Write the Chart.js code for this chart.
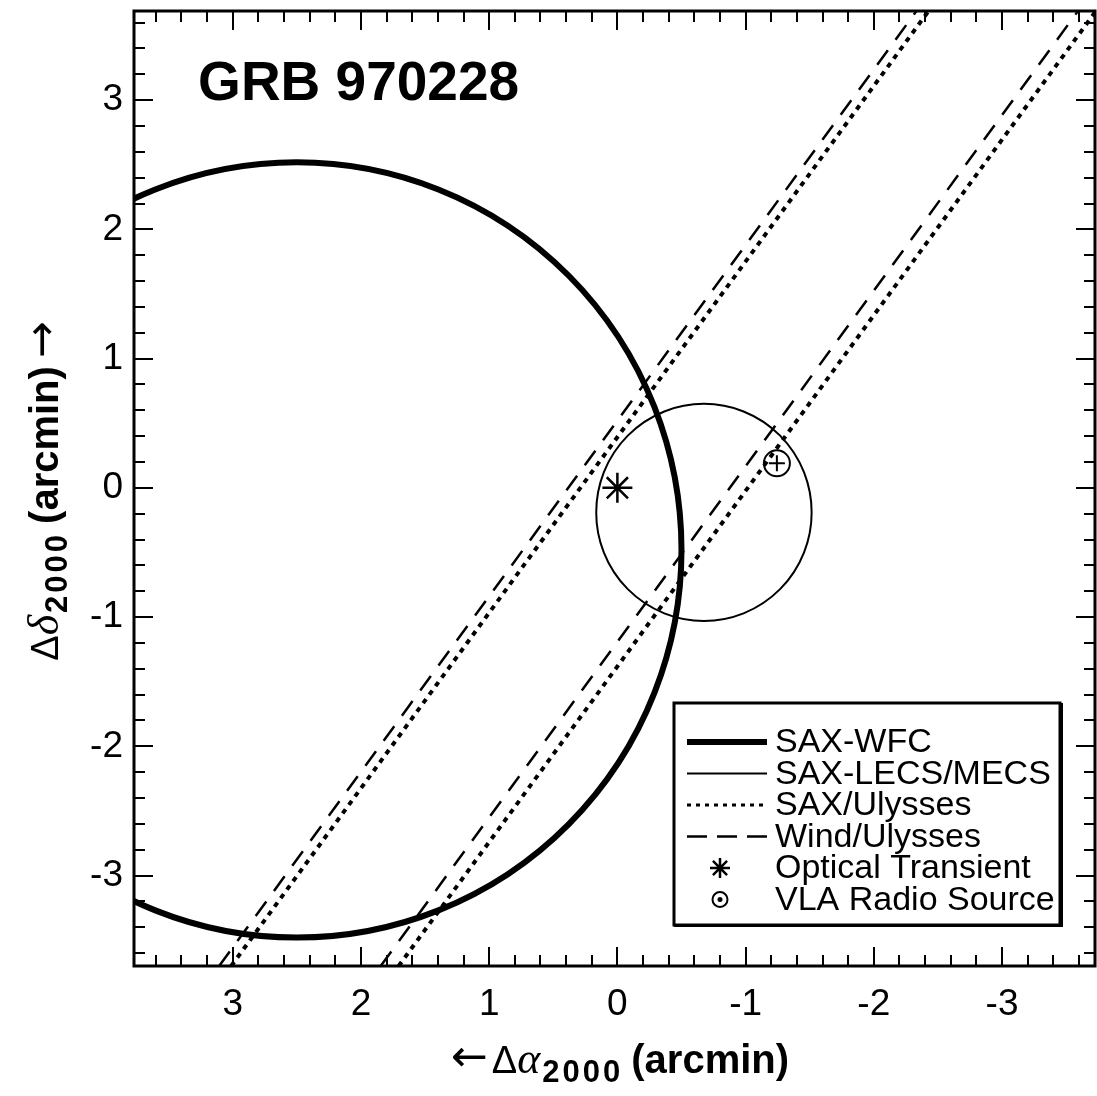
<!DOCTYPE html>
<html>
<head>
<meta charset="utf-8">
<script src="https://cdn.jsdelivr.net/npm/chart.js@4.4.0/dist/chart.umd.min.js"></script>
<style>
  html, body { margin: 0; padding: 0; background: #fff; }
  #wrap { width: 1097px; height: 1096px; }
</style>
</head>
<body>
<div id="wrap"><canvas id="graph" width="1097" height="1096"></canvas></div>
<script>
// axis ranges in arcmin (RA axis runs right to left)
const xRange = [-3.725, 3.77];
const yRange = [-3.70, 3.69];
const tickValues = [-3, -2, -1, 0, 1, 2, 3];
const tickLabels = ['-3', '-2', '-1', '0', '1', '2', '3'];

// error circles: centre x, centre y, radius
const wfcCircle = [2.5, -0.48, 3.0];
const mecsCircle = [-0.675, -0.19, 0.84];

// IPN annulus edges, given where they meet the bottom and top of the frame
const saxUlyssesLeft = [{x: 3.012, y: -3.70}, {x: -2.434, y: 3.70}];
const saxUlyssesRight = [{x: 1.706, y: -3.70}, {x: -3.74, y: 3.70}];
const windUlyssesLeft = [{x: 3.106, y: -3.70}, {x: -2.34, y: 3.70}];
const windUlyssesRight = [{x: 1.846, y: -3.70}, {x: -3.60, y: 3.70}];

// point sources
const opticalTransient = [{x: 0.0, y: 0.0}];
const vlaSource = [{x: -1.244, y: 0.19}];

const titleText = 'GRB 970228';
const titleAnchor = [3.27, 3.0];

const legendLabels = ['SAX-WFC', 'SAX-LECS/MECS', 'SAX/Ulysses', 'Wind/Ulysses', 'Optical Transient', 'VLA Radio Source'];

const sans = '"Liberation Sans", Arial, Helvetica, sans-serif';
const serif = '"Liberation Serif", "Times New Roman", serif';
const arrowFont = '"DejaVu Sans", sans-serif';

function drawParts(ctx, parts, cx, baseline) {
    let total = 0;
    parts.forEach(function(p) {
        ctx.font = p.font;
        ctx.letterSpacing = p.spacing || '0px';
        p.w = ctx.measureText(p.text).width + (p.gap || 0);
        total += p.w;
    });
    let px = cx - total / 2;
    parts.forEach(function(p) {
        ctx.font = p.font;
        ctx.letterSpacing = p.spacing || '0px';
        ctx.fillText(p.text, px, baseline + (p.dy || 0));
        px += p.w;
    });
    ctx.letterSpacing = '0px';
}

const circlePlugin = {
    id: 'errorCircles',
    beforeDatasetsDraw(chart) {
        const {ctx, chartArea: a, scales: {x, y}} = chart;
        ctx.save();
        ctx.beginPath();
        ctx.rect(a.left, a.top, a.right - a.left, a.bottom - a.top);
        ctx.clip();
        ctx.strokeStyle = '#000';
        [[wfcCircle, 6], [mecsCircle, 2]].forEach(function(item) {
            const c = item[0];
            const cx = x.getPixelForValue(c[0]), cy = y.getPixelForValue(c[1]);
            const rx = Math.abs(x.getPixelForValue(c[0] + c[2]) - cx);
            const ry = Math.abs(y.getPixelForValue(c[1] + c[2]) - cy);
            ctx.lineWidth = item[1];
            ctx.beginPath();
            ctx.ellipse(cx, cy, rx, ry, 0, 0, Math.PI * 2);
            ctx.stroke();
        });
        ctx.restore();
    }
};

const framePlugin = {
    id: 'frame',
    afterDraw(chart) {
        const {ctx, chartArea: a, scales: {x, y}} = chart;
        ctx.save();
        ctx.strokeStyle = '#000';
        ctx.fillStyle = '#000';

        // inward ticks on all four sides, minor every 0.2
        ctx.lineWidth = 2;
        ctx.beginPath();
        for (let i = Math.ceil(x.min * 5); i <= Math.floor(x.max * 5); i++) {
            const px = Math.round(x.getPixelForValue(i / 5));
            const len = i % 5 === 0 ? 19 : 11;
            ctx.moveTo(px, a.bottom); ctx.lineTo(px, a.bottom - len);
            ctx.moveTo(px, a.top); ctx.lineTo(px, a.top + len);
        }
        for (let i = Math.ceil(y.min * 5); i <= Math.floor(y.max * 5); i++) {
            const py = Math.round(y.getPixelForValue(i / 5));
            const len = i % 5 === 0 ? 19 : 11;
            ctx.moveTo(a.left, py); ctx.lineTo(a.left + len, py);
            ctx.moveTo(a.right, py); ctx.lineTo(a.right - len, py);
        }
        ctx.stroke();
        ctx.lineWidth = 3;
        ctx.strokeRect(a.left, a.top, a.right - a.left, a.bottom - a.top);

        // plot title
        ctx.font = 'bold 55px ' + sans;
        ctx.textAlign = 'left';
        ctx.textBaseline = 'alphabetic';
        ctx.fillText(titleText, x.getPixelForValue(titleAnchor[0]), y.getPixelForValue(titleAnchor[1]));

        // axis titles
        drawParts(ctx, [
            {text: '\u2190', font: '44px ' + arrowFont, dy: -2, gap: 4},
            {text: '\u0394', font: '38px ' + sans},
            {text: '\u03b1', font: 'italic 44px ' + serif, gap: 2},
            {text: '2000', font: 'bold 31px ' + sans, dy: 9, spacing: '3px', gap: 8},
            {text: '(arcmin)', font: 'bold 40px ' + sans}
        ], 620, 1073);

        ctx.save();
        ctx.translate(58, 491);
        ctx.rotate(-Math.PI / 2);
        drawParts(ctx, [
            {text: '\u0394', font: '38px ' + sans},
            {text: '\u03b4', font: 'italic 44px ' + serif, gap: 2},
            {text: '2000', font: 'bold 31px ' + sans, dy: 9, spacing: '3px', gap: 8},
            {text: '(arcmin)', font: 'bold 40px ' + sans, gap: 8},
            {text: '\u2192', font: '44px ' + arrowFont, dy: -2}
        ], 0, 0);
        ctx.restore();

        // legend box
        const bx = 674, by = 703, bw = 386, bh = 222;
        ctx.fillStyle = '#fff';
        ctx.fillRect(bx, by, bw, bh);
        ctx.lineWidth = 3;
        ctx.strokeRect(bx, by, bw, bh);
        ctx.fillStyle = '#000';
        ctx.fillRect(bx + bw, by, 3, bh + 2);
        ctx.fillRect(bx, by + bh, bw + 2, 2);

        const rowY = function(i) { return by + 39 + i * 31.5; };
        const sx0 = 687, sx1 = 767, tx = 775;
        const samples = [
            {w: 6, dash: []},
            {w: 2, dash: []},
            {w: 3, dash: [4, 5]},
            {w: 2.5, dash: [20, 10]}
        ];
        samples.forEach(function(s, i) {
            ctx.lineWidth = s.w;
            ctx.setLineDash(s.dash);
            ctx.beginPath();
            ctx.moveTo(sx0, rowY(i));
            ctx.lineTo(sx1, rowY(i));
            ctx.stroke();
        });
        ctx.setLineDash([]);

        // star marker
        const sc = [720, rowY(4)];
        ctx.lineWidth = 2.5;
        ctx.beginPath();
        for (let k = 0; k < 4; k++) {
            const ang = k * Math.PI / 4;
            ctx.moveTo(sc[0] - 10 * Math.cos(ang), sc[1] - 10 * Math.sin(ang));
            ctx.lineTo(sc[0] + 10 * Math.cos(ang), sc[1] + 10 * Math.sin(ang));
        }
        ctx.stroke();
        // circled dot
        const cc = [720, rowY(5)];
        ctx.lineWidth = 2;
        ctx.beginPath();
        ctx.arc(cc[0], cc[1], 7.5, 0, Math.PI * 2);
        ctx.stroke();
        ctx.beginPath();
        ctx.arc(cc[0], cc[1], 2.5, 0, Math.PI * 2);
        ctx.fill();

        ctx.font = '34px ' + sans;
        ctx.textBaseline = 'middle';
        legendLabels.forEach(function(lbl, i) {
            ctx.fillText(lbl, tx, rowY(i) + 1);
        });
        ctx.restore();
    }
};

function edgeLine(data, dash, width) {
    return {
        data: data,
        showLine: true,
        borderColor: '#000',
        borderWidth: width,
        borderDash: dash,
        pointRadius: 0,
        fill: false
    };
}

// keep the plot frame where the reference has it
function noPadding(s) {
    s.paddingTop = 0;
    s.paddingBottom = 0;
    s.paddingLeft = 0;
    s.paddingRight = 0;
}

const tickFont = {family: sans, size: 37};

new Chart(document.getElementById('graph'), {
    type: 'scatter',
    data: {
        datasets: [
            edgeLine(saxUlyssesLeft, [5, 5.5], 4),
            edgeLine(saxUlyssesRight, [5, 5.5], 4),
            edgeLine(windUlyssesLeft, [18, 13], 2.5),
            edgeLine(windUlyssesRight, [18, 13], 2.5),
            {
                data: opticalTransient,
                pointStyle: 'star',
                pointRadius: 15,
                borderWidth: 2.5,
                borderColor: '#000',
                backgroundColor: 'rgba(0,0,0,0)'
            },
            {
                data: vlaSource,
                pointStyle: 'circle',
                pointRadius: 13,
                borderWidth: 2,
                borderColor: '#000',
                backgroundColor: 'rgba(255,255,255,0)'
            },
            {
                data: vlaSource,
                pointStyle: 'cross',
                pointRadius: 8,
                borderWidth: 2,
                borderColor: '#000'
            }
        ]
    },
    options: {
        responsive: false,
        animation: false,
        devicePixelRatio: 1,
        layout: {autoPadding: false, padding: {top: 11, right: 2, left: 0, bottom: 0}},
        plugins: {legend: {display: false}, tooltip: {enabled: false}},
        scales: {
            x: {
                type: 'linear',
                min: xRange[0],
                max: xRange[1],
                reverse: true,
                afterFit: function(s) { s.height = 130; noPadding(s); },
                afterBuildTicks: function(s) { s.ticks = tickValues.map(function(v) { return {value: v}; }); },
                ticks: {
                    callback: function(v) { return tickLabels[tickValues.indexOf(v)]; },
                    font: tickFont,
                    color: '#000',
                    padding: 17,
                    maxRotation: 0,
                    autoSkip: false
                },
                grid: {display: false, drawTicks: false},
                border: {display: false}
            },
            y: {
                type: 'linear',
                min: yRange[0],
                max: yRange[1],
                afterFit: function(s) { s.width = 134; noPadding(s); },
                afterBuildTicks: function(s) { s.ticks = tickValues.map(function(v) { return {value: v}; }); },
                ticks: {
                    callback: function(v) { return tickLabels[tickValues.indexOf(v)]; },
                    font: tickFont,
                    color: '#000',
                    padding: 11,
                    autoSkip: false
                },
                grid: {display: false, drawTicks: false},
                border: {display: false}
            }
        }
    },
    plugins: [circlePlugin, framePlugin]
});
</script>
</body>
</html>
